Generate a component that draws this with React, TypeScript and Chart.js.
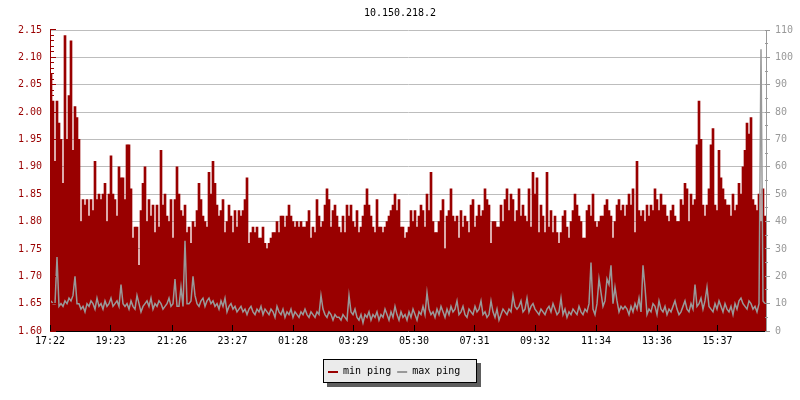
import React, { useEffect, useRef } from 'react';
import { Chart, registerables } from 'chart.js';

Chart.register(...registerables);

const TITLE = '10.150.218.2';
const SAMPLE_MINUTES = 4;

const tickLabels = ['17:22', '19:23', '21:26', '23:27', '01:28', '03:29', '05:30', '07:31', '09:32', '11:34', '13:36', '15:37'];

const leftTicks = { min: 1.6, max: 2.15, step: 0.05, minor: 0.01 };
const rightTicks = { min: 0, max: 110, step: 10, minor: 5 };

const minPing = [
  2.07, 2.02, 1.91, 2.02, 1.98, 1.95, 1.87, 2.14, 1.95, 2.03,
  2.13, 1.93, 2.01, 1.99, 1.95, 1.80, 1.84, 1.83, 1.84, 1.81,
  1.84, 1.82, 1.91, 1.84, 1.85, 1.84, 1.85, 1.87, 1.80, 1.85,
  1.92, 1.85, 1.84, 1.81, 1.90, 1.88, 1.88, 1.84, 1.94, 1.94,
  1.86, 1.77, 1.79, 1.79, 1.72, 1.82, 1.87, 1.90, 1.80, 1.84,
  1.81, 1.83, 1.78, 1.83, 1.79, 1.93, 1.83, 1.85, 1.81, 1.80,
  1.84, 1.77, 1.84, 1.90, 1.85, 1.82, 1.81, 1.83, 1.78, 1.79,
  1.76, 1.80,
  1.79, 1.82, 1.87, 1.84, 1.81, 1.80, 1.79, 1.89, 1.85, 1.91,
  1.87, 1.83, 1.81, 1.82, 1.84, 1.78, 1.80, 1.83, 1.81, 1.78,
  1.82, 1.79, 1.82, 1.81, 1.82, 1.84, 1.88, 1.76, 1.78, 1.79,
  1.78, 1.79, 1.77, 1.77, 1.79, 1.76, 1.75, 1.76, 1.77, 1.78,
  1.78, 1.80, 1.78, 1.81, 1.81, 1.79, 1.81, 1.83, 1.81, 1.80,
  1.79, 1.80, 1.79, 1.80, 1.79, 1.79, 1.80, 1.82, 1.77, 1.79,
  1.78, 1.84, 1.81, 1.79, 1.80, 1.83, 1.86, 1.84, 1.79, 1.82,
  1.83, 1.81,
  1.79, 1.78, 1.81, 1.78, 1.83, 1.81, 1.83, 1.80, 1.79, 1.82,
  1.78, 1.79, 1.81, 1.83, 1.86, 1.83, 1.81, 1.79, 1.78, 1.84,
  1.79, 1.79, 1.78, 1.79, 1.80, 1.81, 1.82, 1.83, 1.85, 1.82,
  1.84, 1.79, 1.79, 1.77, 1.78, 1.79, 1.82, 1.80, 1.82, 1.79,
  1.81, 1.83, 1.82, 1.79, 1.85, 1.82, 1.89, 1.80, 1.78, 1.78,
  1.80, 1.82, 1.84, 1.75, 1.81, 1.82, 1.86, 1.81, 1.80, 1.81,
  1.77, 1.82, 1.79, 1.81, 1.80, 1.78, 1.83, 1.84, 1.79, 1.81,
  1.83, 1.81,
  1.82, 1.86, 1.84, 1.83, 1.76, 1.80, 1.80, 1.79, 1.79, 1.83,
  1.80, 1.84, 1.86, 1.82, 1.85, 1.84, 1.80, 1.82, 1.86, 1.81,
  1.83, 1.81, 1.80, 1.86, 1.79, 1.89, 1.85, 1.88, 1.78, 1.83,
  1.81, 1.78, 1.89, 1.79, 1.82, 1.78, 1.81, 1.78, 1.76, 1.78,
  1.81, 1.82, 1.79, 1.77, 1.80, 1.82, 1.85, 1.83, 1.81, 1.80,
  1.77, 1.77, 1.82, 1.83, 1.81, 1.85, 1.80, 1.79, 1.80, 1.81,
  1.81, 1.83, 1.84, 1.82, 1.81, 1.77, 1.80, 1.83, 1.84, 1.82,
  1.83, 1.81,
  1.83, 1.85, 1.83, 1.86, 1.78, 1.91, 1.82, 1.81, 1.82, 1.80,
  1.83, 1.81, 1.83, 1.82, 1.86, 1.84, 1.82, 1.85, 1.83, 1.83,
  1.81, 1.80, 1.82, 1.83, 1.81, 1.80, 1.80, 1.84, 1.83, 1.87,
  1.86, 1.80, 1.85, 1.83, 1.84, 1.94, 2.02, 1.95, 1.83, 1.81,
  1.83, 1.86, 1.94, 1.97, 1.83, 1.82, 1.93, 1.88, 1.86, 1.84,
  1.83, 1.83, 1.81, 1.85, 1.82, 1.83, 1.87, 1.85, 1.90, 1.93,
  1.98, 1.96, 1.99, 1.84, 1.83, 1.82, 1.85, 1.80, 1.86, 1.81,
];

const maxPing = [
  11, 10, 10, 27, 9, 10, 9, 11, 10, 12,
  11, 13, 20, 10, 10, 8, 9, 7, 10, 9,
  11, 10, 8, 12, 9, 10, 8, 11, 9, 10,
  12, 9, 10, 11, 9, 17, 10, 9, 10, 8,
  11, 9, 8, 13, 10, 7, 9, 10, 11, 9,
  12, 8, 10, 9, 11, 10, 8, 9, 10, 12,
  9, 10, 19, 9, 9, 16, 9, 33, 10, 10,
  11, 20,
  13, 10, 9, 11, 12, 9, 11, 12, 10, 11,
  9, 10, 8, 11, 9, 12, 7, 9, 10, 8,
  9, 7, 8, 9, 7, 8, 6, 8, 9, 7,
  6, 8, 7, 9, 6, 8, 7, 6, 8, 7,
  5, 9, 7, 6, 8, 5, 7, 6, 8, 5,
  7, 6, 5, 7, 6, 8, 6, 5, 7, 6,
  5, 7, 6, 13, 8, 6, 5, 7, 6, 4,
  6, 5,
  5, 4, 6, 5, 4, 13, 7, 6, 8, 5,
  4, 6, 3, 6, 5, 7, 4, 6, 5, 7,
  4, 6, 5, 8, 6, 4, 7, 5, 9, 6,
  4, 7, 5, 6, 4, 7, 5, 8, 6, 4,
  7, 6, 9, 6, 14, 8, 6, 7, 5, 8,
  6, 9, 7, 5, 8, 6, 9, 7, 8, 11,
  6, 7, 9, 6, 5, 8, 7, 6, 9, 7,
  8, 11,
  6, 7, 5, 6, 11, 7, 5, 8, 4, 6,
  8, 7, 6, 8, 7, 13, 9, 8, 9, 11,
  7, 8, 12, 7, 9, 10, 8, 7, 6, 8,
  7, 6, 8, 9, 7, 10, 8, 6, 7, 12,
  6, 8, 5, 7, 6, 8, 7, 6, 9, 7,
  6, 8, 7, 10, 25, 8, 6, 10, 19, 14,
  9, 11, 19, 17, 24, 10, 16, 11, 7, 9,
  8, 9,
  8, 6, 9, 7, 10, 8, 12, 7, 24, 16,
  6, 8, 7, 10, 9, 6, 11, 8, 7, 9,
  6, 8, 7, 9, 11, 8, 6, 7, 9, 11,
  8, 7, 10, 8, 17, 9, 10, 12, 8, 11,
  16, 9, 8, 7, 10, 8, 11, 9, 7, 10,
  8, 7, 9, 6, 10, 8, 11, 12, 10, 9,
  8, 11, 10, 8, 9, 7, 10, 103, 11, 10,
];

const FONT = "'DejaVu Sans Mono', monospace";
const RED = '#990000';
const GRAY = '#999999';
const GRID = '#bdbdbd';

function toMinutes(t: string): number {
  const [h, m] = t.split(':').map(Number);
  return h * 60 + m;
}
const startMinute = toMinutes(tickLabels[0]);
const tickMinutes = tickLabels.map((t) => (toMinutes(t) - startMinute + 1440) % 1440);

const align = (p: number) => Math.round(p - 0.5) + 0.5;

const decorPlugin = {
  id: 'decor',
  afterDatasetsDraw(chart: any) {
    const { ctx, chartArea: a, scales } = chart;
    const y = scales.y;
    const y1 = scales.y1;
    const x = scales.x;
    ctx.save();
    ctx.lineWidth = 1;

    ctx.strokeStyle = RED;
    ctx.beginPath();
    const lx = align(a.left);
    ctx.moveTo(lx, a.top);
    ctx.lineTo(lx, a.bottom);
    const nLeft = Math.round((leftTicks.max - leftTicks.min) / leftTicks.minor);
    const perMajorL = Math.round(leftTicks.step / leftTicks.minor);
    for (let j = 0; j <= nLeft; j++) {
      const py = align(y.getPixelForValue(leftTicks.min + j * leftTicks.minor));
      const len = j % perMajorL === 0 ? 5 : 3;
      ctx.moveTo(a.left, py);
      ctx.lineTo(a.left + len + 1, py);
    }
    ctx.stroke();

    ctx.strokeStyle = GRAY;
    ctx.beginPath();
    const nRight = Math.round((rightTicks.max - rightTicks.min) / rightTicks.minor);
    const perMajorR = Math.round(rightTicks.step / rightTicks.minor);
    for (let j = 0; j <= nRight; j++) {
      const py = align(y1.getPixelForValue(rightTicks.min + j * rightTicks.minor));
      const len = j % perMajorR === 0 ? 5 : 3;
      ctx.moveTo(a.right - 1, py);
      ctx.lineTo(a.right + len - 1, py);
    }
    ctx.stroke();

    ctx.strokeStyle = '#000000';
    ctx.beginPath();
    tickMinutes.forEach((m) => {
      const px = align(x.getPixelForValue(m));
      ctx.moveTo(px, a.bottom - 6);
      ctx.lineTo(px, a.bottom);
    });
    ctx.stroke();
    ctx.restore();
  },
  afterDraw(chart: any) {
    const { ctx, chartArea: a } = chart;
    const items = chart.data.datasets.map((d: any) => ({ label: d.label, color: d.legendColor }));
    ctx.save();
    ctx.font = `10px ${FONT}`;
    const sampleW = 10;
    const gap = 5;
    const itemGap = 6;
    const padL = 5;
    const padR = 17;
    const widths = items.map((it: any) => sampleW + gap + ctx.measureText(it.label).width);
    const total = padL + widths.reduce((s: number, w: number) => s + w, 0) + itemGap * (items.length - 1) + padR;
    const bx = Math.round(chart.width / 2 - total / 2);
    const by = Math.round(a.bottom + 28);
    const bh = 24;
    const bw = Math.round(total);
    ctx.fillStyle = '#5e5e5e';
    ctx.fillRect(bx + 4, by + 4, bw, bh);
    ctx.fillStyle = '#ebebeb';
    ctx.fillRect(bx, by, bw, bh);
    ctx.strokeStyle = '#000000';
    ctx.lineWidth = 1;
    ctx.strokeRect(bx + 0.5, by + 0.5, bw - 1, bh - 1);
    let cx = bx + padL;
    items.forEach((it: any, i: number) => {
      ctx.fillStyle = it.color;
      ctx.fillRect(cx, by + 12, sampleW, 2);
      ctx.fillStyle = '#000000';
      ctx.textBaseline = 'middle';
      ctx.textAlign = 'left';
      ctx.fillText(it.label, cx + sampleW + gap, by + 12.5);
      cx += widths[i] + itemGap;
    });
    ctx.restore();
  },
};

export default function App() {
  const ref = useRef<HTMLCanvasElement | null>(null);

  useEffect(() => {
    if (!ref.current) return;
    Chart.defaults.font.family = FONT;
    const half = SAMPLE_MINUTES / 2;
    const chart = new Chart(ref.current, {
      type: 'bar',
      data: {
        datasets: [
          {
            type: 'bar',
            label: 'min ping',
            data: minPing.map((v, i) => ({ x: i * SAMPLE_MINUTES + half, y: v })),
            backgroundColor: RED,
            borderWidth: 0,
            barPercentage: 1,
            categoryPercentage: 1,
            yAxisID: 'y',
            xAxisID: 'x',
            order: 2,
            legendColor: RED,
          } as any,
          {
            type: 'line',
            label: 'max ping',
            data: maxPing.map((v, i) => ({ x: i * SAMPLE_MINUTES + half, y: v })),
            borderColor: GRAY,
            backgroundColor: GRAY,
            borderWidth: 1.5,
            pointRadius: 0,
            tension: 0,
            yAxisID: 'y1',
            xAxisID: 'x',
            order: 1,
            legendColor: GRAY,
          } as any,
        ],
      },
      options: {
        animation: false,
        responsive: false,
        events: [],
        layout: { padding: 0 },
        plugins: {
          legend: { display: false },
          tooltip: { enabled: false },
          title: {
            display: true,
            text: TITLE,
            color: '#000000',
            font: { family: FONT, size: 10, weight: 'normal' },
            padding: { top: 7, bottom: 11 },
          },
        },
        scales: {
          x: {
            type: 'linear',
            min: 0,
            max: minPing.length * SAMPLE_MINUTES,
            offset: false,
            z: 1,
            grid: { display: false, drawTicks: false, offset: false },
            border: { display: true, color: '#000000' },
            ticks: {
              autoSkip: false,
              maxRotation: 0,
              color: '#000000',
              font: { family: FONT, size: 10 },
              padding: 4,
              callback: (_v: any, i: number) => tickLabels[i],
            },
            afterBuildTicks: (s: any) => {
              s.ticks = tickMinutes.map((v) => ({ value: v }));
            },
            afterFit: (s: any) => {
              s.height = 69;
            },
          } as any,
          y: {
            type: 'linear',
            position: 'left',
            min: leftTicks.min,
            max: leftTicks.max,
            grid: { color: GRID, drawTicks: false, lineWidth: 1 },
            border: { display: true, color: RED },
            ticks: {
              stepSize: leftTicks.step,
              color: RED,
              font: { family: FONT, size: 10 },
              padding: 8,
              callback: (v: any) => Number(v).toFixed(2),
            },
            afterFit: (s: any) => {
              s.width = 50;
            },
          } as any,
          y1: {
            type: 'linear',
            position: 'right',
            min: rightTicks.min,
            max: rightTicks.max,
            z: 1,
            grid: { display: false, drawTicks: false },
            border: { display: true, color: GRAY },
            ticks: {
              stepSize: rightTicks.step,
              color: GRAY,
              font: { family: FONT, size: 10 },
              padding: 9,
            },
            afterFit: (s: any) => {
              s.width = 34;
            },
          } as any,
        },
      },
      plugins: [decorPlugin],
    });
    return () => chart.destroy();
  }, []);

  return (
    <div style={{ position: 'absolute', left: 0, top: 0, width: 800, height: 400, background: '#ffffff' }}>
      <canvas ref={ref} width={800} height={400} style={{ display: 'block', width: 800, height: 400 }} />
    </div>
  );
}
